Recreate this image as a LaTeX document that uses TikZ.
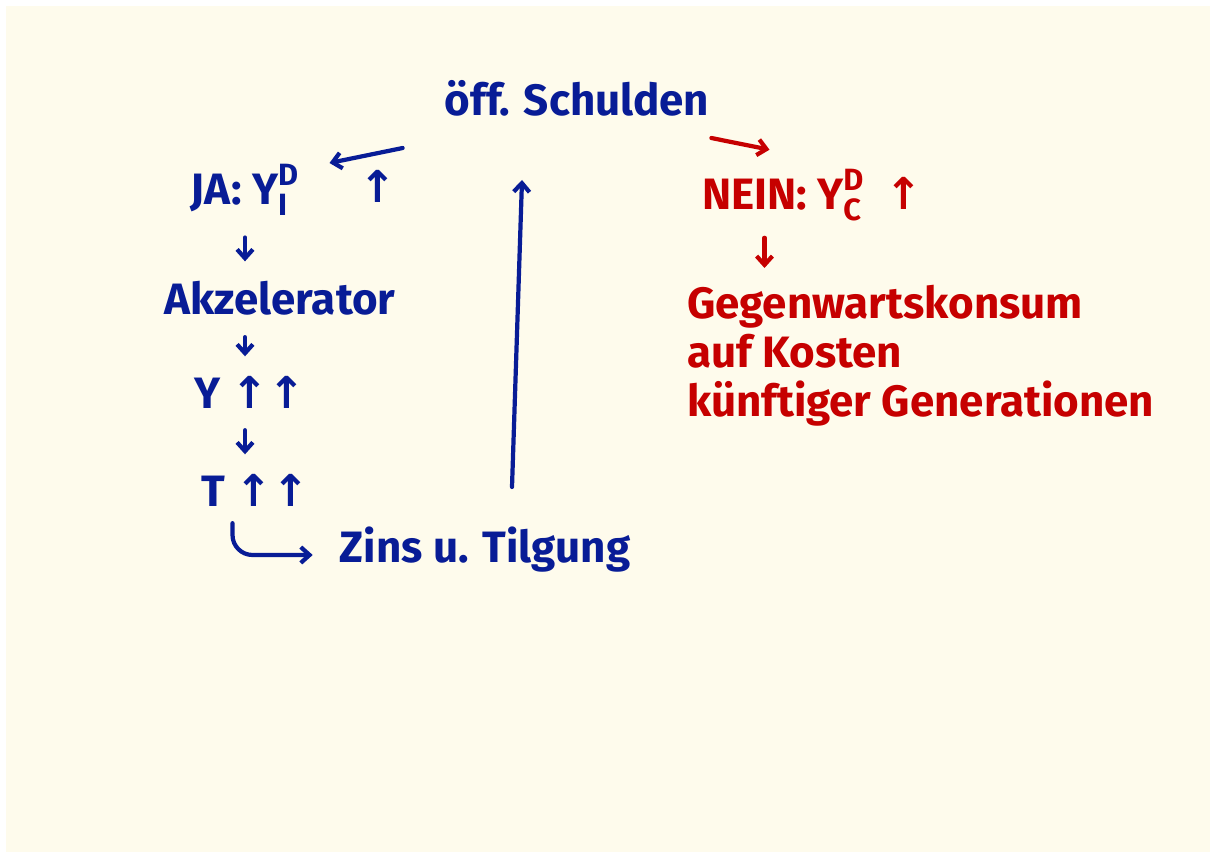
\documentclass[tikz,border=0pt]{standalone}
\usepackage{fontspec}
\usepackage{amsmath}
\usetikzlibrary{arrows.meta}
\setmainfont{Fira Sans}
\newfontfamily\arrowfont{DejaVu Sans}
\definecolor{paper}{RGB}{254,251,236}
\definecolor{inkblue}{RGB}{8,28,150}
\definecolor{inkred}{RGB}{198,0,0}
\newcommand{\upar}{{\arrowfont\bfseries ↑}}
\tikzset{
    pen/.style={draw=#1, line width=2.4pt, line cap=round, -{Straight Barb[length=5pt,width=9pt]}},
}
\begin{document}
\begin{tikzpicture}[x=0.02cm,y=-0.02cm,
        every node/.style={font=\fontsize{25}{28}\selectfont\bfseries, inner sep=1pt}]
        \useasboundingbox (0,0) rectangle (1213,857);
        \fill[paper] (6,6) rectangle (1210,852);
        \foreach \x/\y/\n/\l in {577/98/schulden/{öff. Schulden},245/190/ja/{JA: $\text{Y}^{\text{D}}_{\text{I}}$},378/186/jaup/\upar,280/298/akz/Akzelerator,250/392/yup/{Y \upar\upar},255/490/tup/{T \upar\upar},485/550/zins/{Zins u. Tilgung}}{
            \node[text=inkblue] (\n) at (\x,\y) {\l};
        }
        \foreach \x/\y/\n/\l in {812/195/nein/{NEIN: $\text{Y}^{\text{D}}_{\text{C}}$\ \ \upar}}{
            \node[text=inkred] (\n) at (\x,\y) {\l};
        }
        \node[text=inkred, anchor=north west, align=left] (gegen) at (685,283) {Gegenwartskonsum\\auf Kosten\\künftiger Generationen};
        \coordinate (col) at (245,0);
        \coordinate (tb) at (512,487);
        \coordinate (te) at (522,180);
        \draw[pen=inkblue] ([xshift=-0.8cm,yshift=-0.6cm]schulden.south west) -- ([xshift=-0.56cm,yshift=0.46cm]jaup.west);
        \foreach \m/\n in {ja/akz,akz/yup,yup/tup}{
            \draw[pen=inkblue, shorten <=0.4cm, shorten >=0.35cm] (\m.south -| col) -- (\n.north -| col);
        }
        \draw[pen=inkblue, rounded corners=0.4cm] ([xshift=-0.45cm,yshift=-0.3cm]tup.south) |- ([xshift=-0.5cm,yshift=-0.1cm]zins.west);
        \draw[pen=inkblue] (tb) -- (te);
        \draw[pen=inkred] ([yshift=-0.4cm]schulden.south east) -- ([xshift=-0.85cm,yshift=0.35cm]nein.north);
        \draw[pen=inkred, shorten <=0.3cm, shorten >=0.3cm] ([xshift=-0.95cm]nein.south) -- ([xshift=-0.95cm]nein.south |- gegen.north);
    \end{tikzpicture}
\end{document}
